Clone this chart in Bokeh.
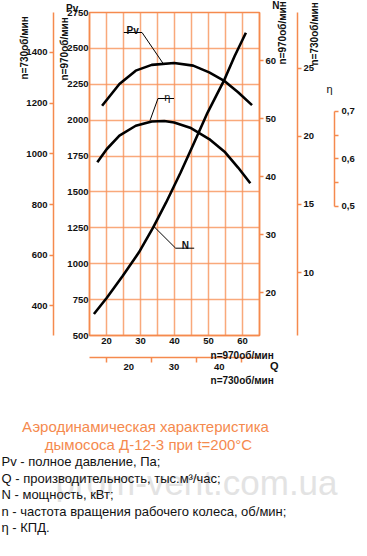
import math
from bokeh.plotting import figure
from bokeh.models import LinearAxis, Range1d, FixedTicker, Label
from bokeh.embed import file_html
from bokeh.resources import INLINE

# ---------------- data (n = 970 rpm) ----------------
Q_pv = [18.7, 23.8, 28.6, 33.3, 39.9, 45.5, 50.2, 54.5, 58.7, 62.8]
Pv = [2100, 2252, 2345, 2385, 2398, 2380, 2333, 2276, 2194, 2105]

Q_eta = [17.3, 20.1, 23.8, 28.6, 33.3, 37.0, 39.9, 44.6, 50.2, 54.9, 58.7, 62.3]
eta = [0.593, 0.621, 0.649, 0.670, 0.679, 0.680, 0.677, 0.666, 0.642, 0.614, 0.582, 0.549]

Q_N = [16.3, 20.1, 24.8, 29.5, 33.7, 37.5, 41.8, 45.5, 49.7, 54.5, 57.7, 61.0]
N = [16.3, 19.1, 22.9, 26.9, 31.2, 35.5, 40.7, 45.5, 51.0, 56.5, 60.8, 64.8]

pv970_ticks = [500, 750, 1000, 1250, 1500, 1750, 2000, 2250, 2500, 2750]
pv730_ticks = [400, 600, 800, 1000, 1200, 1400]
n970_ticks = [20, 30, 40, 50, 60]
n730_ticks = [10, 15, 20, 25]
eta_ticks = [0.5, 0.6, 0.7]
eta_minor = [0.55, 0.65]
eta_labels = {0.5: "0,5", 0.6: "0,6", 0.7: "0,7"}
q970_ticks = [20, 30, 40, 50, 60]
q_grid = [15, 20, 25, 30, 35, 40, 45, 50, 55, 60, 65]
q730_ticks = [20, 30, 40]
q730_minor = [15, 25, 35, 45]

rpm970 = "n=970об/мин"
rpm730 = "n=730об/мин"
title_lines = ["Аэродинамическая характеристика", "дымососа Д-12-3 при t=200°C"]
legend_lines = [
    "Pv - полное давление, Па;",
    "Q - производительность, тыс.м³/час;",
    "N - мощность, кВт;",
    "n - частота вращения рабочего колеса, об/мин;",
    "η - КПД.",
]
watermark = "prom-vent.com.ua"

# ---------------- styling ----------------
ORANGE = "#F58A4E"
GRID = "#F7935A"
FONT = "Liberation Sans"
TICK_FS = "9.5px"
INK = "#111111"

k = 730 / 970  # fan laws
Q0, Q1 = 15, 65
P0, P1 = 500, 2750
N0, N1 = 12.6, 68.3
E0, E1 = 0.2284, 0.9084

FL, FT, FW, FH, FR, FB = 84, 12, 177, 323, 96, 70
W, H = FL + FW + FR, FT + FH + FB
MAIN_BOTTOM = 8 + H                # page y where the main canvas ends

p = figure(width=W, height=H, x_range=Range1d(Q0, Q1), y_range=Range1d(P0, P1),
           output_backend="svg", toolbar_location=None,
           min_border_left=FL, min_border_right=FR, min_border_top=FT, min_border_bottom=FB)
p.border_fill_color = "white"
p.outline_line_color = ORANGE
p.outline_line_width = 1.5

p.extra_y_ranges = {
    "pv730": Range1d(P0 * k ** 2, P1 * k ** 2),
    "n970": Range1d(N0, N1),
    "n730": Range1d(N0 * k ** 3, N1 * k ** 3),
    "eta": Range1d(E0, E1),
}
p.extra_x_ranges = {"q730": Range1d(Q0 * k, Q1 * k)}


def style(ax, tick_out=4, standoff=2):
    ax.axis_line_color = ORANGE
    ax.axis_line_width = 1.5
    ax.major_tick_line_color = ORANGE
    ax.minor_tick_line_color = ORANGE
    ax.major_tick_line_width = 1.5
    ax.minor_tick_line_width = 1.5
    ax.major_tick_in = 0
    ax.minor_tick_in = 0
    ax.major_tick_out = tick_out
    ax.minor_tick_out = tick_out
    ax.major_label_text_font = FONT
    ax.major_label_text_font_style = "bold"
    ax.major_label_text_font_size = TICK_FS
    ax.major_label_text_color = INK
    ax.major_label_standoff = standoff


# page px -> main data units
def X(px):
    return Q0 + (px - 8 - FL) * (Q1 - Q0) / FW


def Y(py):
    return P0 + (8 + FT + FH - py) * (P1 - P0) / FH


def lab(px, py, s, size="10px", style_="bold", color=INK, align="left",
        baseline="alphabetic", angle=0):
    return Label(x=X(px), y=Y(py), text=s, text_font=FONT, text_font_size=size,
                 text_font_style=style_, text_color=color, text_align=align,
                 text_baseline=baseline, angle=angle)


# ----- left side (frame outward)
yax = p.yaxis[0]
yax.ticker = FixedTicker(ticks=pv970_ticks)
style(yax, tick_out=0, standoff=1)
p.add_layout(lab(66, 88, rpm970, angle=math.pi / 2, baseline="middle"), "left")

ax_pv730 = LinearAxis(y_range_name="pv730", ticker=FixedTicker(ticks=pv730_ticks))
style(ax_pv730, tick_out=4, standoff=2)
p.add_layout(ax_pv730, "left")
p.add_layout(lab(24.5, 87, rpm730, angle=math.pi / 2, baseline="middle"), "left")
p.add_layout(lab(74, 16, "Pv", align="center"), "left")

# ----- right side (frame outward)
ax_n970 = LinearAxis(y_range_name="n970", ticker=FixedTicker(ticks=n970_ticks))
style(ax_n970, tick_out=4, standoff=2)
p.add_layout(ax_n970, "right")
p.add_layout(lab(286, 13, "N", align="center"), "right")
p.add_layout(lab(293, 72, rpm970, angle=math.pi / 2, baseline="middle"), "right")

ax_n730 = LinearAxis(y_range_name="n730", ticker=FixedTicker(ticks=n730_ticks))
style(ax_n730, tick_out=4, standoff=2)
p.add_layout(ax_n730, "right")
p.add_layout(lab(342, 96, "η", size="11px", style_="normal", align="center"), "right")
p.add_layout(lab(326, 73, rpm730, angle=math.pi / 2, baseline="middle"), "right")

ax_eta = LinearAxis(y_range_name="eta", ticker=FixedTicker(ticks=eta_ticks, minor_ticks=eta_minor),
                    bounds=(min(eta_ticks), max(eta_ticks)))
style(ax_eta, tick_out=4, standoff=3)
ax_eta.major_label_overrides = eta_labels
p.add_layout(ax_eta, "right")

# ----- bottom (frame downward)
xax = p.xaxis[0]
xax.ticker = FixedTicker(ticks=q970_ticks)
style(xax, tick_out=0, standoff=2)
p.add_layout(lab(218, 363, rpm970), "below")

ax_q730 = LinearAxis(x_range_name="q730", ticker=FixedTicker(ticks=q730_ticks, minor_ticks=q730_minor))
style(ax_q730, tick_out=5, standoff=1)
ax_q730.major_tick_out = 0
p.add_layout(ax_q730, "below")
p.add_layout(lab(218, 388, rpm730), "below")
p.add_layout(lab(280, 373, "Q", size="11px"), "below")

# grid
p.xgrid.ticker = FixedTicker(ticks=q_grid)
p.ygrid.ticker = FixedTicker(ticks=pv970_ticks)
for g in (p.xgrid[0], p.ygrid[0]):
    g.grid_line_color = GRID
    g.grid_line_width = 1.5
    g.grid_line_alpha = 0.8

# curves
p.line(Q_pv, Pv, line_color="black", line_width=2.6)
p.line(Q_eta, eta, line_color="black", line_width=2.6, y_range_name="eta")
p.line(Q_N, N, line_color="black", line_width=2.6, y_range_name="n970")


def leader(pts):
    p.line([X(a) for a, b in pts], [Y(b) for a, b in pts], line_color="black", line_width=1)


leader([(127.7, 40), (146.7, 40), (168.3, 70.5)])
leader([(180, 106), (163.3, 106), (155, 128)])
leader([(201, 255.7), (181.7, 255.7), (158.3, 233.3)])
p.add_layout(lab(137, 38, "Pv", align="center"))
p.add_layout(lab(173, 104, "η", size="11px", style_="normal", align="center"))
p.add_layout(lab(191.7, 253, "N", align="center"))

# ---------------- text block below the chart (page coordinates) ----------------
BW = 351
bot = figure(width=BW, height=548 - MAIN_BOTTOM, x_range=Range1d(8, 8 + BW),
             y_range=Range1d(548, MAIN_BOTTOM), output_backend="svg", toolbar_location=None,
             min_border=0, x_axis_type=None, y_axis_type=None)
bot.grid.visible = False
bot.outline_line_color = None
bot.border_fill_color = "white"


def put(px, py, s, size, color=INK, align="left"):
    bot.add_layout(Label(x=px, y=py, text=s, text_font=FONT, text_font_size=size,
                         text_color=color, text_align=align, text_baseline="alphabetic"))


put(63, 490, watermark, "35px", color="#e3e3e3")
put(153, 434, title_lines[0], "15px", color=ORANGE, align="center")
put(156, 452, title_lines[1], "15px", color=ORANGE, align="center")
for i, s in enumerate(legend_lines):
    put(9, 469 + i * 16.6, s, "13px")

open("out.html", "w").write(file_html([p, bot], INLINE))
